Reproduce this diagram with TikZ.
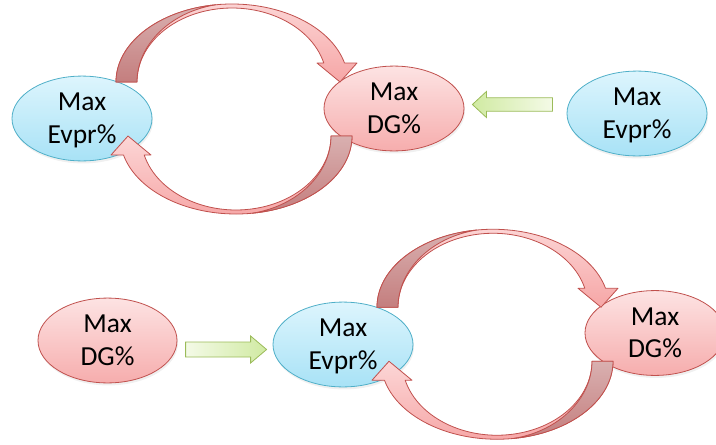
\documentclass[tikz,border=0pt]{standalone}
\usepackage{fontspec}
\setmainfont{Carlito}
\usetikzlibrary{shapes.geometric,calc,shadows}

% palette
\definecolor{evedge}{HTML}{4FAFC8}
\definecolor{evtop}{HTML}{DDF5FD}
\definecolor{evbot}{HTML}{A8E2F6}
\definecolor{dgedge}{HTML}{C0504D}
\definecolor{dgtop}{HTML}{FDE3E3}
\definecolor{dgbot}{HTML}{F6ADAD}
\definecolor{frontA}{HTML}{FCD6D6}
\definecolor{frontB}{HTML}{F6A6A6}
\definecolor{backA}{HTML}{D9B0B0}
\definecolor{backB}{HTML}{C47E7E}
\definecolor{gredge}{HTML}{9BBB59}
\definecolor{grlight}{HTML}{F4FAE7}
\definecolor{grdark}{HTML}{D0EAA2}

% equal line boxes so both lines sit the same way in every bubble
\newcommand\txtstrut{\rule[-5.4pt]{0pt}{27.4pt}}

\tikzset{
  bubble/.style={ellipse, inner sep=0pt, align=center, line width=0.8pt,
    font=\fontsize{27.5}{32.6}\selectfont,
    drop shadow={opacity=0.12, shadow xshift=1pt, shadow yshift=-2.5pt}},
  evbubble/.style={bubble, draw=evedge, top color=evtop, bottom color=evbot},
  dgbubble/.style={bubble, draw=dgedge, top color=dgtop, bottom color=dgbot},
  bandfront/.style={draw=dgedge, line width=0.8pt, line join=round,
    top color=frontA, bottom color=frontB},
  bandback/.style={draw=dgedge, line width=0.8pt, line join=round,
    top color=backA, bottom color=backB},
  greenarrow/.style={draw=gredge, line width=0.8pt, line join=miter},
  % half of a feedback loop: a curved block arrow, origin at the loop centre
  pics/loopband/.style={code={
    \begin{scope}[shift={(-234,-109)}]
      \path[bandfront] (116,82)
        arc[start angle=180, end angle=345.9, x radius=116, y radius=78]
        -- (357,63) -- (340,82) -- (317,63) -- (323.8,63)
        arc[start angle=345.1, end angle=180, x radius=95, y radius=74]
        -- cycle;
      \path[bandback] (116,82)
        arc[start angle=180, end angle=262, x radius=116, y radius=78]
        .. controls (170,12) and (137,45) .. (137,82) -- cycle;
    \end{scope}
  }}
}

\begin{document}
\begin{tikzpicture}[x=1pt, y=-1pt]
  \useasboundingbox (0,0) rectangle (716,445);

  % upper loop
  \node[evbubble, minimum width=140, minimum height=61] (ev1) at (82,118.5)
    {\txtstrut Max\\\txtstrut Evpr\%};
  \node[dgbubble, minimum width=140, minimum height=67] (dg1) at (394,108.5)
    {\txtstrut Max\\\txtstrut DG\%};
  \node[evbubble, minimum width=140, minimum height=63] (ev2) at (637,113.5)
    {\txtstrut Max\\\txtstrut Evpr\%};

  \coordinate (c1) at ($(ev1)!0.5!(dg1)+(-4,-4.5)$);
  \pic at (c1) {loopband};
  \pic[rotate=180] at (c1) {loopband};

  \coordinate (gt1) at ($(dg1.east)+(8,-4)$);
  \draw[greenarrow, left color=grdark, right color=grlight]
    (gt1) -- ++(14,-13) -- ++(0,6.3) -- ++(66,0) -- ++(0,13.4)
    -- ++(-66,0) -- ++(0,6.3) -- cycle;

  % lower loop
  \node[dgbubble, minimum width=139, minimum height=65] (dg2) at (107.5,340.5)
    {\txtstrut Max\\\txtstrut DG\%};
  \node[evbubble, minimum width=140, minimum height=61] (ev3) at (343,344.5)
    {\txtstrut Max\\\txtstrut Evpr\%};
  \node[dgbubble, minimum width=140, minimum height=68] (dg3) at (655,333)
    {\txtstrut Max\\\txtstrut DG\%};

  \coordinate (c2) at ($(ev3)!0.5!(dg3)+(-4,-4.5)$);
  \pic at (c2) {loopband};
  \pic[rotate=180] at (c2) {loopband};

  \coordinate (gt2) at ($(ev3.west)+(-6,5)$);
  \draw[greenarrow, left color=grlight, right color=grdark]
    (gt2) -- ++(-16,-13.5) -- ++(0,6) -- ++(-65,0) -- ++(0,15)
    -- ++(65,0) -- ++(0,6) -- cycle;
\end{tikzpicture}
\end{document}
